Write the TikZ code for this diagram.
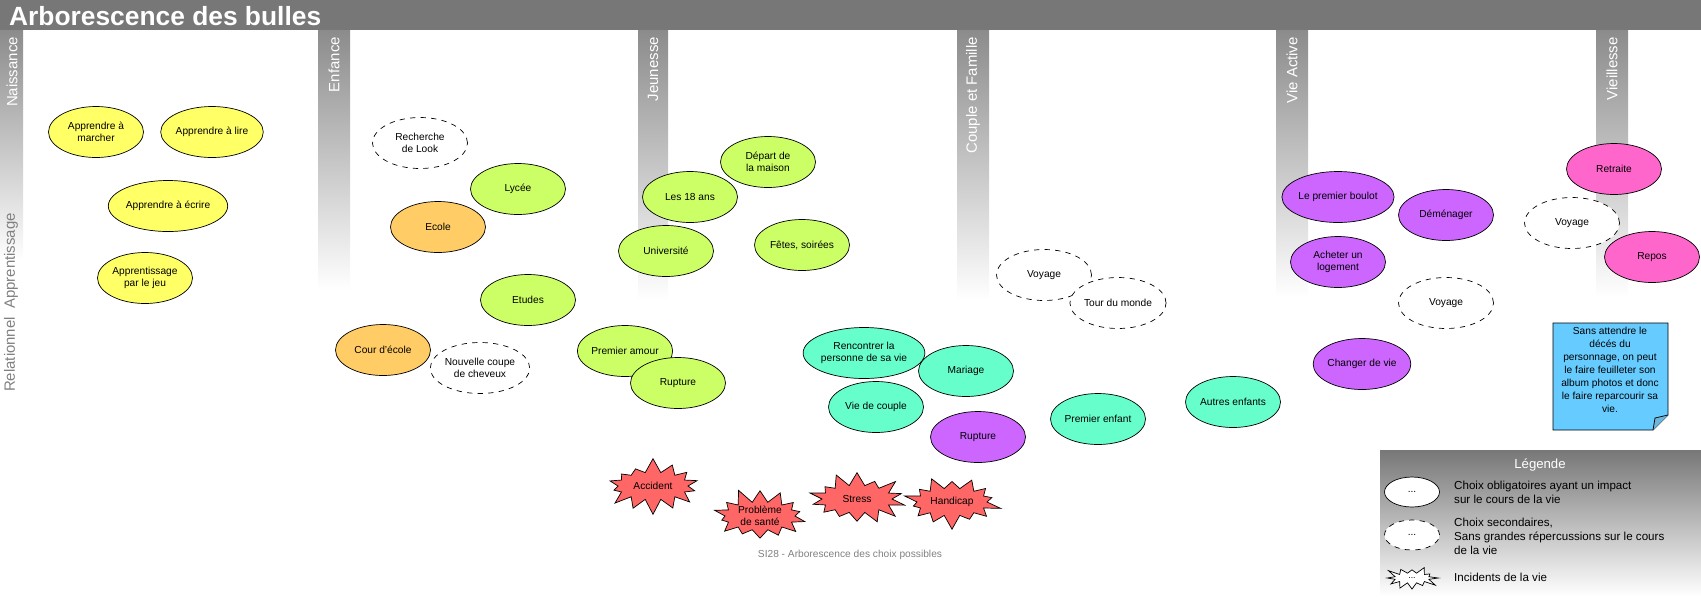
\documentclass[tikz,border=0pt]{standalone}
\usepackage{fontspec}
\setmainfont{Liberation Sans}
\usetikzlibrary{shapes.geometric,shapes.symbols}
\definecolor{bandeau}{HTML}{777777}
\definecolor{jaune}{HTML}{FFFF66}
\definecolor{vert}{HTML}{CCFF66}
\definecolor{orange}{HTML}{FFCC66}
\definecolor{turquoise}{HTML}{66FFCC}
\definecolor{violet}{HTML}{CC66FF}
\definecolor{rose}{HTML}{FF66CC}
\definecolor{rouge}{HTML}{FF6666}
\definecolor{bleu}{HTML}{66CCFF}
\tikzset{
  bulle/.style={draw, ellipse, minimum width=1.9cm, minimum height=1.02cm, inner sep=0pt,
    align=center, font=\fontsize{5.8}{7}\selectfont},
  option/.style={bulle, dashed, fill=white},
  incident/.style={draw, starburst, fill=rouge, random starburst=7, starburst points=14,
    starburst point height=0.3cm, minimum width=2cm, minimum height=1.15cm, inner sep=0pt,
    align=center, font=\fontsize{5.8}{7}\selectfont},
  periode/.style={rotate=90, anchor=east, text=white, font=\fontsize{8.5}{10}\selectfont},
}
\begin{document}
\begin{tikzpicture}[x=0.02cm, y=-0.02cm]
\useasboundingbox (0,0) rectangle (1701,596);
% bandeau et periodes
\fill[bandeau] (0,0) rectangle (1701,30);
\node[anchor=west, text=white, font=\bfseries\fontsize{15}{16}\selectfont] (titre) at (3,16) {Arborescence des bulles};
\shade[top color=bandeau!85, bottom color=white] (0,30) rectangle (23,260);
\shade[top color=bandeau!85, bottom color=white] (318,30) rectangle (350,290);
\shade[top color=bandeau!85, bottom color=white] (638,30) rectangle (668,300);
\shade[top color=bandeau!85, bottom color=white] (957,30) rectangle (989,300);
\shade[top color=bandeau!85, bottom color=white] (1276,30) rectangle (1308,297);
\shade[top color=bandeau!85, bottom color=white] (1596,30) rectangle (1628,297);
\node[periode] (naissance) at (12,31) {Naissance};
\node[periode] (enfance) at (334,31) {Enfance};
\node[periode] (jeunesse) at (653,31) {Jeunesse};
\node[periode] (couple) at (973,31) {Couple et Famille};
\node[periode] (active) at (1292,31) {Vie Active};
\node[periode] (vieillesse) at (1612,31) {Vieillesse};
\node[rotate=90, anchor=west, text=gray, font=\fontsize{8.5}{10}\selectfont] (axe) at (11,398) {Relationnel\ \ Apprentissage};
% naissance
\node[bulle, fill=jaune] (marcher) at (96,132) {Apprendre à\\marcher};
\node[bulle, fill=jaune] (lire) at (212,132) {Apprendre à lire};
\node[bulle, fill=jaune] (ecrire) at (168,206) {Apprendre à écrire};
\node[bulle, fill=jaune] (jeu) at (145,278) {Apprentissage\\par le jeu};
% enfance
\node[option] (look) at (420,143) {Recherche\\de Look};
\node[bulle, fill=vert] (lycee) at (518,189) {Lycée};
\node[bulle, fill=orange] (ecole) at (438,227) {Ecole};
\node[bulle, fill=vert] (etudes) at (528,300) {Etudes};
\node[bulle, fill=orange] (cour) at (383,350) {Cour d'école};
\node[option] (coupe) at (480,368) {Nouvelle coupe\\de cheveux};
% jeunesse
\node[bulle, fill=vert] (depart) at (768,162) {Départ de\\la maison};
\node[bulle, fill=vert] (majorite) at (690,197) {Les 18 ans};
\node[bulle, fill=vert] (universite) at (666,251) {Université};
\node[bulle, fill=vert] (fetes) at (802,245) {Fêtes, soirées};
\node[bulle, fill=vert] (amour) at (625,351) {Premier amour};
\node[bulle, fill=vert] (rupture) at (678,383) {Rupture};
% couple et famille
\node[bulle, fill=turquoise] (rencontre) at (864,353) {Rencontrer la\\personne de sa vie};
\node[bulle, fill=turquoise] (mariage) at (966,371) {Mariage};
\node[bulle, fill=turquoise] (viecouple) at (876,407) {Vie de couple};
\node[bulle, fill=violet] (separation) at (978,437) {Rupture};
\node[bulle, fill=turquoise] (enfant) at (1098,419) {Premier enfant};
\node[bulle, fill=turquoise] (enfants) at (1233,402) {Autres enfants};
\node[option] (voyageA) at (1044,275) {Voyage};
\node[option] (tour) at (1118,303) {Tour du monde};
% vie active
\node[bulle, fill=violet] (boulot) at (1338,197) {Le premier boulot};
\node[bulle, fill=violet] (demenager) at (1446,215) {Déménager};
\node[bulle, fill=violet] (logement) at (1338,262) {Acheter un\\logement};
\node[option] (voyageB) at (1446,303) {Voyage};
\node[bulle, fill=violet] (changer) at (1362,364) {Changer de vie};
% vieillesse
\node[bulle, fill=rose] (retraite) at (1614,169) {Retraite};
\node[option] (voyageC) at (1572,223) {Voyage};
\node[bulle, fill=rose] (repos) at (1652,257) {Repos};
% incidents
\node[incident] (accident) at (653,486) {Accident};
\node[incident, random starburst=11] (sante) at (760,516) {Problème\\de santé};
\node[incident, random starburst=4] (stress) at (857,499) {Stress};
\node[incident, random starburst=9] (handicap) at (952,502) {Handicap};
\node[text=gray, font=\fontsize{5.8}{7}\selectfont] (pied) at (850,555) {SI28 - Arborescence des choix possibles};
% note
\fill[bleu, draw=black] (1553,323) -- (1668,323) -- (1668,415) -- (1653,430) -- (1553,430) -- cycle;
\draw[fill=bleu!70!gray] (1668,415) -- (1655,418) -- (1653,430);
\node[align=center, font=\fontsize{5.8}{7.4}\selectfont] (note) at (1610,370) {Sans attendre le\\décés du\\personnage, on peut\\le faire feuilleter son\\album photos et donc\\le faire reparcourir sa\\vie.};
% legende
\shade[top color=bandeau, bottom color=white] (1380,450) rectangle (1701,596);
\node[text=white, font=\fontsize{7.5}{9}\selectfont] (legende) at (1540,465) {Légende};
\node[bulle, fill=white, minimum width=1.1cm, minimum height=0.6cm] (obligatoire) at (1412,492) {...};
\node[option, minimum width=1.1cm, minimum height=0.6cm] (secondaire) at (1412,535) {...};
\node[draw, starburst, fill=white, random starburst=3, starburst points=12, starburst point height=0.2cm, minimum width=1.1cm, minimum height=0.6cm, inner sep=0pt, font=\fontsize{5}{6}\selectfont] (aleas) at (1412,578) {...};
\node[anchor=west, align=left, font=\fontsize{6.6}{8}\selectfont] (txtA) at (1448,492) {Choix obligatoires ayant un impact\\sur le cours de la vie};
\node[anchor=west, align=left, font=\fontsize{6.6}{8}\selectfont] (txtB) at (1448,536) {Choix secondaires,\\Sans grandes répercussions sur le cours\\de la vie};
\node[anchor=west, font=\fontsize{6.6}{8}\selectfont] (txtC) at (1448,577) {Incidents de la vie};
\end{tikzpicture}
\end{document}
